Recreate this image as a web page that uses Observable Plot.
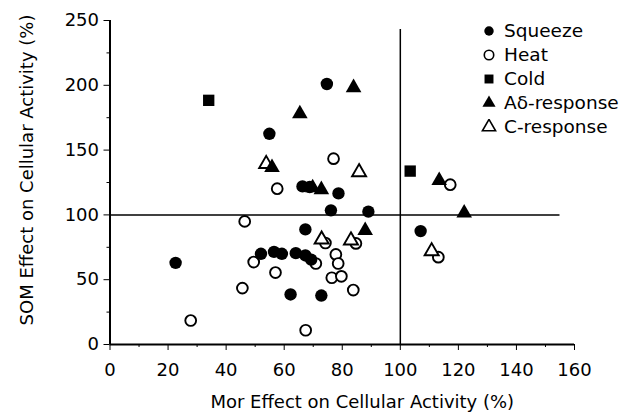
<!DOCTYPE html>
<html>
<head>
<meta charset="utf-8">
<script src="https://cdn.jsdelivr.net/npm/d3@7"></script>
<script src="https://cdn.jsdelivr.net/npm/@observablehq/plot@0.6"></script>
<style>
  html, body { margin: 0; padding: 0; background: #fff; }
  #wrap { position: relative; width: 630px; height: 419px; font-family: "DejaVu Sans", "Liberation Sans", Arial, sans-serif; color: #000; }
  #legend { position: absolute; left: 481px; top: 19px; font-size: 18.5px; line-height: 24px; }
  #legend div { display: flex; align-items: center; height: 24px; white-space: nowrap; }
  #legend svg { width: 16px; height: 16px; margin-right: 7px; }
</style>
</head>
<body>
<div id="wrap"></div>
<script>
// Data: [Mor effect (%), SOM effect (%)]
const squeeze = [
  [22.6, 63], [52, 70], [54.9, 162.6], [56.5, 71.5], [59.2, 70], [62.2, 38.6],
  [64, 70.5], [66.3, 122], [67.3, 68.7], [67.3, 88.8], [68.8, 121.5], [69.3, 65.5],
  [72.8, 37.8], [74.7, 201], [76.1, 103.5], [78.7, 116.6], [89, 102.5], [107, 87.5]
];
const heat = [
  [27.8, 18.5], [45.6, 43.5], [46.4, 95], [49.5, 63.6], [57, 55.5], [57.6, 120.2],
  [67.4, 11], [70.9, 62.5], [74.2, 78.3], [77, 143.4], [77.8, 69.5], [78.6, 62.5],
  [76.4, 51.5], [79.7, 52.6], [83.8, 42], [84.7, 78], [113.1, 67.4], [117.2, 123.3]
];
const cold = [[34, 188.4], [103.4, 133.8]];
const aDelta = [
  [55.8, 136.5], [65.4, 178], [69.8, 121], [72.8, 119.5], [83.9, 198.2],
  [87.9, 88], [113.4, 126.5], [122, 101.4]
];
const cResp = [[53.8, 139.3], [72.9, 81], [83, 80.3], [85.8, 133], [110.8, 72]];

const xTicks = [0, 20, 40, 60, 80, 100, 120, 140, 160];
const yTicks = [0, 50, 100, 150, 200, 250];
const xMinor = [10, 30, 50, 70, 90, 110, 130, 150];
const yMinor = [25, 75, 125, 175, 225];
const refX = 100, refY = 100;
const xTitle = "Mor Effect on Cellular Activity (%)";
const yTitle = "SOM Effect on Cellular Activity (%)";
const legendItems = [
  {label: "Squeeze", symbol: "circle", fill: "#000"},
  {label: "Heat", symbol: "circle", fill: "none"},
  {label: "Cold", symbol: "square", fill: "#000"},
  {label: "A\u03b4-response", symbol: "triangle", fill: "#000"},
  {label: "C-response", symbol: "triangle", fill: "none"}
];

const font = "'DejaVu Sans', 'Liberation Sans', Arial, sans-serif";
const ink = "#000";

const chart = Plot.plot({
  width: 630,
  height: 419,
  marginLeft: 109.5,
  marginRight: 56,
  marginTop: 20,
  marginBottom: 75,
  style: {fontFamily: font, fontSize: "18px", color: ink, background: "#fff"},
  x: {domain: [0, 160]},
  y: {domain: [0, 250]},
  marks: [
    Plot.ruleX([refX], {y1: 0, y2: 243, stroke: ink, strokeWidth: 1.5}),
    Plot.ruleY([refY], {x1: 0, x2: 155, stroke: ink, strokeWidth: 1.5}),
    Plot.axisX({ticks: xTicks, tickSize: 6, tickPadding: 13, tickFormat: d => d, fontSize: 18, label: null}),
    Plot.axisX({ticks: xMinor, tickSize: 3, text: null, label: null}),
    Plot.axisY({ticks: yTicks, tickSize: 6, tickPadding: 5, tickFormat: d => d, fontSize: 18, label: null}),
    Plot.axisY({ticks: yMinor, tickSize: 3, text: null, label: null}),
    Plot.text([xTitle], {text: d => d, frameAnchor: "bottom", textAnchor: "middle", dx: 20, dy: 63,
      fontSize: 18, fill: ink}),
    Plot.ruleY([0], {stroke: ink, strokeWidth: 2}),
    Plot.ruleX([0], {stroke: ink, strokeWidth: 2}),
    Plot.dot(heat, {x: d => d[0], y: d => d[1], r: 5.4, stroke: ink, strokeWidth: 1.9, fill: "#fff"}),
    Plot.dot(cResp, {x: d => d[0], y: d => d[1], symbol: "triangle", r: 5.2, stroke: ink, strokeWidth: 1.9, fill: "#fff"}),
    Plot.dot(squeeze, {x: d => d[0], y: d => d[1], r: 6.2, fill: ink, stroke: "none"}),
    Plot.dot(cold, {x: d => d[0], y: d => d[1], symbol: "square", r: 6.4, fill: ink, stroke: "none"}),
    Plot.dot(aDelta, {x: d => d[0], y: d => d[1], symbol: "triangle", r: 5.8, fill: ink, stroke: "none"})
  ]
});

const wrap = document.getElementById("wrap");
wrap.appendChild(chart);

// Y-axis title (single line, rotated)
d3.select(chart).append("text")
  .attr("transform", "translate(26,170) rotate(-90)")
  .attr("text-anchor", "middle")
  .attr("dominant-baseline", "central")
  .attr("font-family", font)
  .attr("font-size", 18)
  .attr("fill", ink)
  .text(yTitle);

// Legend
const legend = document.createElement("div");
legend.id = "legend";
const symGen = {circle: d3.symbolCircle, square: d3.symbolSquare, triangle: d3.symbolTriangle};
const symSize = {circle: 70, square: 80, triangle: 75};
for (const it of legendItems) {
  const row = document.createElement("div");
  const s = d3.create("svg").attr("viewBox", "-8 -8 16 16");
  s.append("path")
    .attr("d", d3.symbol(symGen[it.symbol], symSize[it.symbol])())
    .attr("fill", it.fill === "none" ? "#fff" : it.fill)
    .attr("stroke", ink)
    .attr("stroke-width", it.fill === "none" ? 1.6 : 0);
  row.appendChild(s.node());
  const t = document.createElement("span");
  t.textContent = it.label;
  row.appendChild(t);
  legend.appendChild(row);
}
wrap.appendChild(legend);
</script>
</body>
</html>
